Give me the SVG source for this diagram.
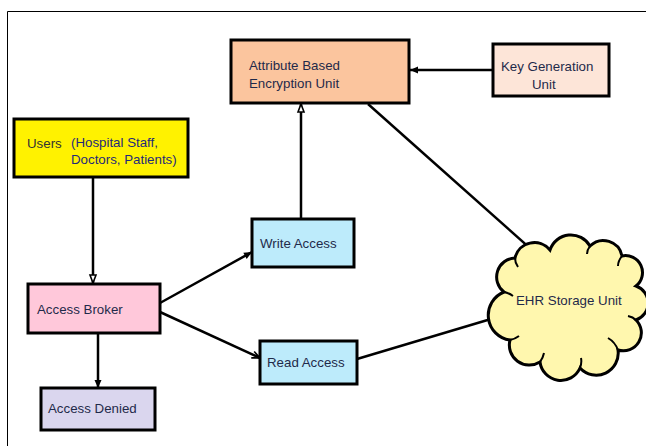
<svg xmlns="http://www.w3.org/2000/svg" width="646" height="446" viewBox="0 0 646 446">
<defs>
<style>
.box{stroke:#000;stroke-width:3}
.t{font-family:"Liberation Sans",Arial,sans-serif;font-size:13.3px;fill:#1f2a4a}
.con{stroke:#000;stroke-width:2.5;fill:none}
</style>
<marker id="hollow" viewBox="0 0 10 10" refX="9" refY="5" markerWidth="4" markerHeight="4" orient="auto" markerUnits="strokeWidth">
<path d="M1,2 L9,5 L1,8 Z" fill="#fff" stroke="#000" stroke-width="1.6"/>
</marker>
<marker id="solid" viewBox="0 0 10 10" refX="9" refY="5" markerWidth="4" markerHeight="4" orient="auto" markerUnits="strokeWidth">
<path d="M1,1.5 L9,5 L1,8.5 Z" fill="#000"/>
</marker>
<marker id="open" viewBox="0 0 10 10" refX="9" refY="5" markerWidth="4" markerHeight="4" orient="auto" markerUnits="strokeWidth">
<path d="M1,1.5 L9,5 L1,8.5" fill="none" stroke="#000" stroke-width="1.6"/>
</marker>
</defs>
<rect width="646" height="446" fill="#fff"/>
<path d="M7.5,446 V11.5 H646" fill="none" stroke="#000" stroke-width="1"/>

<g id="connectors">
<line class="con" x1="93" y1="177" x2="93" y2="283" marker-end="url(#hollow)"/>
<line class="con" x1="98" y1="333" x2="98" y2="388" marker-end="url(#solid)"/>
<line class="con" x1="160" y1="303" x2="252" y2="252" marker-end="url(#solid)"/>
<line class="con" x1="160" y1="312" x2="260" y2="358" marker-end="url(#open)"/>
<line class="con" x1="301" y1="219" x2="301" y2="104" marker-end="url(#hollow)"/>
<line class="con" x1="493" y1="70" x2="410" y2="70" marker-end="url(#solid)"/>
<line class="con" x1="368" y1="104" x2="541" y2="258"/>
<line class="con" x1="357" y1="359" x2="501" y2="316"/>
</g>

<g id="abe">
<rect class="box" x="231" y="40" width="178" height="63" fill="#fbc59e"/>
<text class="t" x="249" y="70">Attribute Based</text>
<text class="t" x="249" y="88">Encryption Unit</text>
</g>
<g id="keygen">
<rect class="box" x="493" y="44" width="116" height="52" fill="#fde5d8"/>
<text class="t" x="501" y="71">Key Generation</text>
<text class="t" x="532" y="89">Unit</text>
</g>
<g id="users">
<rect class="box" x="14" y="119" width="174" height="58" fill="#fff200"/>
<text class="t" x="27" y="148" style="fill:#333">Users</text>
<text class="t" x="71" y="147" style="fill:#1f2a7a">(Hospital Staff,</text>
<text class="t" x="71" y="164" style="fill:#1f2a7a">Doctors, Patients)</text>
</g>
<g id="write">
<rect class="box" x="252" y="219" width="102" height="48" fill="#bdebfb"/>
<text class="t" x="260" y="248">Write Access</text>
</g>
<g id="broker">
<rect class="box" x="28" y="284" width="132" height="49" fill="#ffc8da"/>
<text class="t" x="37" y="314">Access Broker</text>
</g>
<g id="read">
<rect class="box" x="260" y="341" width="97" height="43" fill="#bdebfb"/>
<text class="t" x="267" y="367">Read Access</text>
</g>
<g id="denied">
<rect class="box" x="41" y="388" width="114" height="42" fill="#dad6ee"/>
<text class="t" x="48" y="413">Access Denied</text>
</g>
<g id="ehr">
<path class="box" fill="#fff7ae" d="M504,292 A19,19 0 0 1 515,258 A20,20 0 0 1 550,250 A22,22 0 0 1 590,246 A19,19 0 0 1 622,256 A17,17 0 0 1 636,286 A18,18 0 0 1 636,320 A18,18 0 0 1 618,350 A22,22 0 0 1 580,368 A21,21 0 0 1 540,362 A20,20 0 0 1 510,340 A25,25 0 0 1 504,292 Z"/>
<path d="M504,292 q5,1 9,4 M515,258 q0,5 3,9 M590,246 q-3,4 -3,8 M622,256 q-4,5 -4,10 M636,320 q-3,-3 -8,-4 M618,350 q-3,-8 -10,-12 M580,368 q2,-5 1,-10 M540,362 q3,-4 4,-9 M510,340 q5,-1 9,-4" fill="none" stroke="#000" stroke-width="2"/>
<text class="t" x="516" y="305">EHR Storage Unit</text>
</g>
</svg>
